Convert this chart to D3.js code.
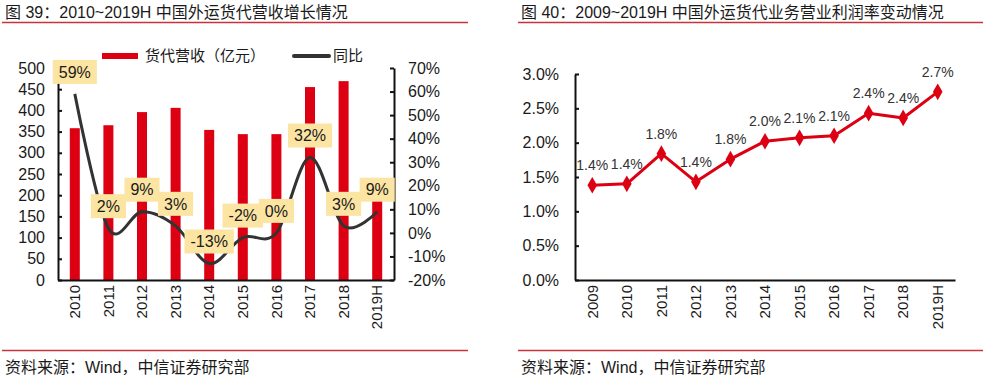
<!doctype html>
<html>
  <head>
    <meta charset="utf-8">
    <script src="https://cdn.jsdelivr.net/npm/d3@7"></script>
    <style>
    body { margin: 0; background: #fff; }
    svg text {
      font-family: "Liberation Sans", Arial, "Noto Sans CJK SC", sans-serif;
      fill: #1a1a1a;
    }
    .axis path, .axis line { stroke: #111; stroke-width: 2; }
    .axis text { font-size: 16px; }
    .xaxis text { font-size: 15px; }
    .title { font-size: 16px; }
    .foot { font-size: 16px; }
    </style>
  </head>
  <body>
    <script>
      // left chart: freight forwarding revenue (100m yuan) and yoy growth
      var years1 = ["2010","2011","2012","2013","2014","2015","2016","2017","2018","2019H"];
      var revenue = [358, 365, 396, 406, 354, 344, 344, 455, 469, 238];
      var yoy = [0.59, 0.02, 0.09, 0.03, -0.13, -0.02, 0.00, 0.32, 0.03, 0.09];
      var revTicks = [0,50,100,150,200,250,300,350,400,450,500];
      var yoyTicks = [-0.2,-0.1,0,0.1,0.2,0.3,0.4,0.5,0.6,0.7];

      // right chart: operating margin
      var years2 = ["2009","2010","2011","2012","2013","2014","2015","2016","2017","2018","2019H"];
      var margin = [0.0138, 0.0140, 0.0184, 0.0143, 0.0176, 0.0202, 0.0207, 0.0210, 0.0243, 0.0236, 0.0274];
      var marginTicks = [0, 0.005, 0.01, 0.015, 0.02, 0.025, 0.03];

      var red = "#dc0012";
      var loc = d3.formatLocale({decimal: ".", thousands: ",", grouping: [3], currency: ["", ""], minus: "-"});
      var pct0 = loc.format(".0%");
      var pct1 = loc.format(".1%");

      var svg = d3.select("body").append("svg")
                  .attr("width", 1004)
                  .attr("height", 378);

      // titles, rules, footers
      function frame(x0, x1, title) {
        svg.append("text").attr("class", "title")
           .attr("x", x0 + 3).attr("y", 18).text(title);
        svg.append("line").attr("x1", x0).attr("x2", x1).attr("y1", 22.5).attr("y2", 22.5)
           .attr("stroke", "#c8323a").attr("stroke-width", 1.5);
        svg.append("line").attr("x1", x0).attr("x2", x1).attr("y1", 350.5).attr("y2", 350.5)
           .attr("stroke", "#c8323a").attr("stroke-width", 1.5);
        svg.append("text").attr("class", "foot")
           .attr("x", x0 + 3).attr("y", 373).text("资料来源：Wind，中信证券研究部");
      }
      frame(2, 468, "图 39：2010~2019H 中国外运货代营收增长情况");
      frame(518, 983, "图 40：2009~2019H 中国外运货代业务营业利润率变动情况");

      //---------- left chart
      var x1 = d3.scaleBand().domain(years1).range([58, 394]);
      var yRev = d3.scaleLinear().domain([0, 500]).range([280, 68]);
      var yYoy = d3.scaleLinear().domain([-0.2, 0.7]).range([280, 68]);

      svg.selectAll("rect.bar")
         .data(revenue)
         .enter().append("rect")
         .attr("class", "bar")
         .attr("x", function(d, i) { return x1(years1[i]) + x1.bandwidth() / 2 - 5; })
         .attr("width", 10)
         .attr("y", function(d) { return yRev(d); })
         .attr("height", function(d) { return yRev(0) - yRev(d); })
         .attr("fill", red);

      var line1 = d3.line()
                    .x(function(d, i) { return x1(years1[i]) + x1.bandwidth() / 2; })
                    .y(function(d) { return yYoy(d); })
                    .curve(d3.curveCatmullRom.alpha(0));

      svg.append("path")
         .datum(yoy)
         .attr("d", line1)
         .attr("fill", "none")
         .attr("stroke", "#333")
         .attr("stroke-width", 3);

      svg.append("g").attr("class", "axis")
         .attr("transform", "translate(58,0)")
         .call(d3.axisLeft(yRev).tickValues(revTicks).tickSize(-4).tickSizeOuter(0).tickPadding(13));

      svg.append("g").attr("class", "axis")
         .attr("transform", "translate(394,0)")
         .call(d3.axisRight(yYoy).tickValues(yoyTicks).tickFormat(pct0).tickSize(-4).tickSizeOuter(0).tickPadding(14));

      var xa1 = svg.append("g").attr("class", "axis xaxis")
         .attr("transform", "translate(0,280)")
         .call(d3.axisBottom(x1).tickSize(0).tickSizeOuter(0));
      xa1.selectAll("text")
         .attr("transform", "rotate(-90)")
         .attr("text-anchor", "end")
         .attr("x", -5).attr("y", 0).attr("dy", "0.35em");

      // yellow value tags
      var tags = svg.selectAll("g.tag")
         .data(yoy)
         .enter().append("g")
         .attr("class", "tag")
         .attr("transform", function(d, i) {
           return "translate(" + (x1(years1[i]) + x1.bandwidth() / 2) + "," + (yYoy(d) - 22) + ")";
         });
      tags.append("rect").attr("fill", "#fce4a2");
      tags.append("text")
          .attr("text-anchor", "middle")
          .attr("dy", "0.36em")
          .style("font-size", "16px")
          .text(function(d) { return pct0(d); });
      tags.each(function() {
        var g = d3.select(this);
        var w = g.select("text").node().getComputedTextLength() + 12;
        g.select("rect").attr("x", -w / 2).attr("y", -12).attr("width", w).attr("height", 24);
      });

      // legend
      svg.append("rect").attr("x", 102).attr("y", 53).attr("width", 36).attr("height", 6).attr("fill", red);
      svg.append("text").attr("x", 145).attr("y", 56).attr("dy", "0.35em")
         .style("font-size", "15px").text("货代营收（亿元）");
      svg.append("line").attr("x1", 294).attr("x2", 329).attr("y1", 56).attr("y2", 56)
         .attr("stroke", "#333").attr("stroke-width", 4).attr("stroke-linecap", "round");
      svg.append("text").attr("x", 333).attr("y", 56).attr("dy", "0.35em")
         .style("font-size", "15px").text("同比");

      //---------- right chart
      var x2 = d3.scaleBand().domain(years2).range([575, 955]);
      var yM = d3.scaleLinear().domain([0, 0.03]).range([280, 74]);

      svg.append("g").attr("class", "axis")
         .attr("transform", "translate(575,0)")
         .call(d3.axisLeft(yM).tickValues(marginTicks).tickFormat(pct1).tickSize(-4).tickSizeOuter(0).tickPadding(16));

      var xa2 = svg.append("g").attr("class", "axis xaxis")
         .attr("transform", "translate(0,280)")
         .call(d3.axisBottom(x2).tickSize(0).tickSizeOuter(0));
      xa2.selectAll("text")
         .attr("transform", "rotate(-90)")
         .attr("text-anchor", "end")
         .attr("x", -5).attr("y", 0).attr("dy", "0.35em");

      var line2 = d3.line()
                    .x(function(d, i) { return x2(years2[i]) + x2.bandwidth() / 2; })
                    .y(function(d) { return yM(d); });

      svg.append("path")
         .datum(margin)
         .attr("d", line2)
         .attr("fill", "none")
         .attr("stroke", red)
         .attr("stroke-width", 3)
         .attr("stroke-linejoin", "round");

      svg.selectAll("path.mk")
         .data(margin)
         .enter().append("path")
         .attr("class", "mk")
         .attr("d", d3.symbol().type(d3.symbolDiamond).size(80))
         .attr("fill", red)
         .attr("transform", function(d, i) {
           return "translate(" + (x2(years2[i]) + x2.bandwidth() / 2) + "," + yM(d) + ")";
         });

      svg.selectAll("text.ml")
         .data(margin)
         .enter().append("text")
         .attr("class", "ml")
         .attr("text-anchor", "middle")
         .attr("x", function(d, i) { return x2(years2[i]) + x2.bandwidth() / 2; })
         .attr("y", function(d) { return yM(d) - 20; })
         .attr("dy", "0.35em")
         .style("font-size", "14px")
         .style("fill", "#333")
         .text(function(d) { return pct1(d); });
    </script>
  </body>
</html>
